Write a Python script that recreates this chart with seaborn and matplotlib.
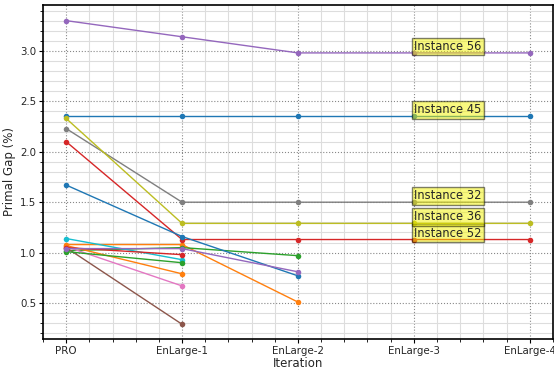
import matplotlib
matplotlib.use("Agg")
import matplotlib.pyplot as plt
from matplotlib.ticker import MultipleLocator, AutoMinorLocator
import seaborn as sns
import pandas as pd

# Iteration stages on the x axis
iterations = ["PRO", "EnLarge-1", "EnLarge-2", "EnLarge-3", "EnLarge-4"]

# Primal gap (%) per instance at each stage it reached
instance_names = [
    "Instance 45", "Instance 7", "Instance 12", "Instance 52", "Instance 56",
    "Instance 3", "Instance 19", "Instance 32", "Instance 36", "Instance 24",
    "Instance 41", "Instance 9", "Instance 15", "Instance 28", "Instance 60",
]
gap_45 = [2.35, 2.35, 2.35, 2.35, 2.35]
gap_7 = [1.08, 1.08, 0.51]
gap_12 = [1.02, 1.05, 0.97]
gap_52 = [2.10, 1.13, 1.13, 1.13, 1.13]
gap_56 = [3.30, 3.14, 2.98, 2.98, 2.98]
gap_3 = [1.05, 0.29]
gap_19 = [1.06, 0.67]
gap_32 = [2.23, 1.50, 1.50, 1.50, 1.50]
gap_36 = [2.33, 1.29, 1.29, 1.29, 1.29]
gap_24 = [1.14, 0.93]
gap_41 = [1.67, 1.16, 0.77]
gap_9 = [1.07, 0.79]
gap_15 = [1.01, 0.90]
gap_28 = [1.05, 0.98]
gap_60 = [1.04, 1.04, 0.81]

gaps = [gap_45, gap_7, gap_12, gap_52, gap_56, gap_3, gap_19, gap_32,
        gap_36, gap_24, gap_41, gap_9, gap_15, gap_28, gap_60]

# Instances that run through every iteration get a callout at EnLarge-3
annotated = ["Instance 56", "Instance 45", "Instance 32", "Instance 36", "Instance 52"]

rows = []
for name, vals in zip(instance_names, gaps):
    for i, v in enumerate(vals):
        rows.append({"instance": name, "iteration": i, "gap": v})
df = pd.DataFrame(rows)

sns.set_theme(style="ticks")
plt.rcParams["font.family"] = ["DejaVu Sans"]

fig = plt.figure(figsize=(5.54, 3.70), dpi=100)
ax = fig.add_axes([0.0776, 0.0838, 0.9204, 0.9027])

tab10 = sns.color_palette("tab10")
palette = [tab10[i % 10] for i in range(len(instance_names))]

sns.lineplot(data=df, x="iteration", y="gap", hue="instance",
             hue_order=instance_names, palette=palette, marker="o",
             markersize=4, markeredgewidth=0, linewidth=1.0,
             legend=False, sort=False, ax=ax)

for name, vals in zip(instance_names, gaps):
    if name in annotated:
        ax.text(3, vals[3], name, ha="left", va="bottom", fontsize=8.3,
                bbox=dict(boxstyle="square,pad=0.2", fc="#f2f200",
                          ec="black", lw=1.0, alpha=0.5))

ax.set_xticks(range(len(iterations)))
ax.set_xticklabels(iterations)
ax.xaxis.set_minor_locator(AutoMinorLocator(5))
ax.yaxis.set_major_locator(MultipleLocator(0.5))
ax.yaxis.set_minor_locator(AutoMinorLocator(5))
ax.set_xlim(-0.2, 4.2)
ax.set_ylim(0.144, 3.455)

ax.grid(which="major", linestyle=":", color="#888888", linewidth=0.8)
ax.grid(which="minor", linestyle="-", color="#dddddd", linewidth=0.8)
ax.set_axisbelow(True)

ax.tick_params(axis="both", which="major", labelsize=7.4, length=3,
               width=0.8, color="black", pad=2)
ax.tick_params(axis="both", which="minor", length=2, width=0.6, color="black")
for s in ax.spines.values():
    s.set_color("black")
    s.set_linewidth(1.2)

ax.set_xlabel("Iteration", fontsize=8.5, labelpad=1)
ax.set_ylabel("Primal Gap (%)", fontsize=8.5, labelpad=3)

fig.savefig("out.png", dpi=100)
